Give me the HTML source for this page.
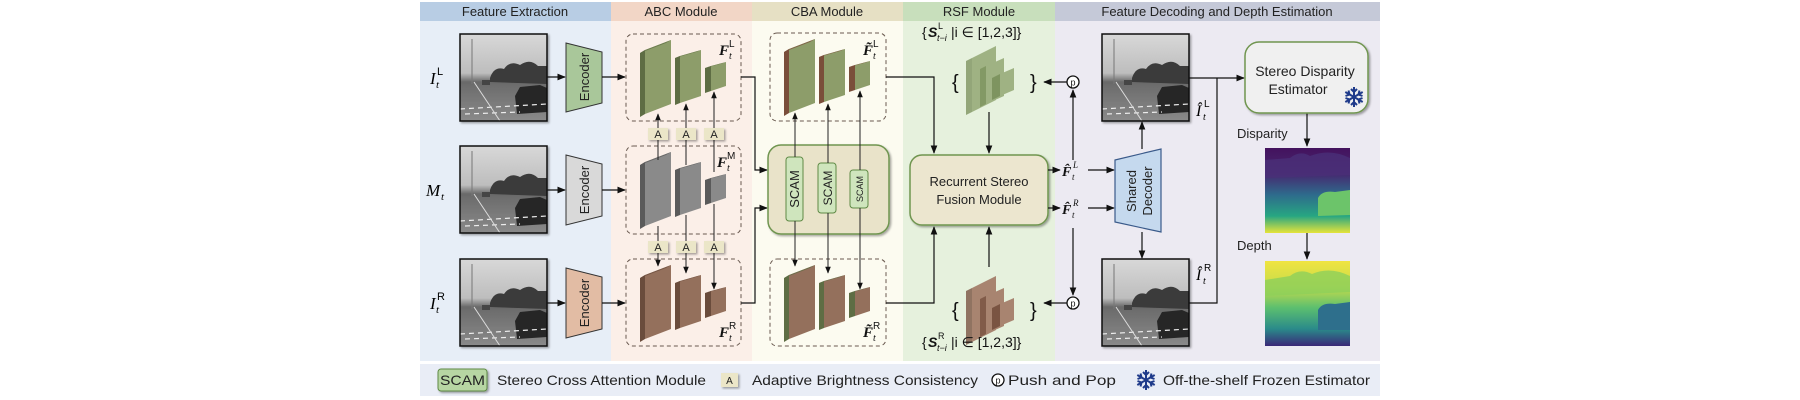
<!DOCTYPE html>
<html><head><meta charset="utf-8"><style>
html,body{margin:0;padding:0;background:#fff;width:1800px;height:400px;overflow:hidden}
svg{display:block}
text{font-family:"Liberation Sans",sans-serif}
.m{font-family:"Liberation Serif",serif;font-style:italic}
.b{font-weight:bold}
</style></head><body>
<svg width="1800" height="400" viewBox="0 0 1800 400" xmlns="http://www.w3.org/2000/svg">
<defs>
<marker id="ar" viewBox="0 0 10 10" refX="9" refY="5" markerWidth="7" markerHeight="7" orient="auto-start-reverse"><path d="M0,1 L10,5 L0,9 z" fill="#111"/></marker>
<linearGradient id="sky" x1="0" y1="0" x2="0" y2="1"><stop offset="0" stop-color="#d8d8d8"/><stop offset="0.45" stop-color="#bdbdbd"/><stop offset="0.55" stop-color="#6a6a6a"/><stop offset="1" stop-color="#8a8a8a"/></linearGradient>
<linearGradient id="disp" x1="0" y1="0" x2="0" y2="1"><stop offset="0" stop-color="#44125e"/><stop offset="0.3" stop-color="#46286f"/><stop offset="0.55" stop-color="#2e6b8c"/><stop offset="0.8" stop-color="#27a682"/><stop offset="1" stop-color="#e6e43a"/></linearGradient>
<linearGradient id="dep" x1="0" y1="0" x2="0" y2="1"><stop offset="0" stop-color="#f0e441"/><stop offset="0.3" stop-color="#c8dc4a"/><stop offset="0.55" stop-color="#5cbf6f"/><stop offset="0.8" stop-color="#2a8a8a"/><stop offset="1" stop-color="#3a2878"/></linearGradient>
<filter id="sh" x="-10%" y="-10%" width="130%" height="130%"><feDropShadow dx="1.5" dy="1.5" stdDeviation="1" flood-opacity="0.35"/></filter>
<g id="photo">
<rect x="0" y="0" width="87" height="87" fill="url(#sky)"/>
<path d="M30,44 Q34,32 44,35 Q50,26 60,31 Q70,24 78,32 L87,32 L87,50 L30,48 z" fill="#3a3a3a"/>
<path d="M55,62 L60,53 L80,51 L87,54 L87,78 L57,80 z" fill="#262626"/>
<rect x="22" y="46" width="8" height="5" fill="#444"/>
<path d="M0,75 L87,70 M5,80 L60,78" stroke="#eee" stroke-width="1.2" stroke-dasharray="5,4"/>
<path d="M14,48 L40,87" stroke="#ddd" stroke-width="1"/>
<line x1="12" y1="5" x2="12" y2="50" stroke="#777" stroke-width="1"/>
<rect x="0" y="0" width="87" height="87" fill="none" stroke="#111" stroke-width="1.5"/>
</g>
<g id="bs">
<polygon points="19,16 45,6 45,70 19,80" style="fill:var(--m)"/>
<polygon points="14,19 19,16 19,80 14,83" style="fill:var(--s)"/>
<polygon points="14,19 40,9 45,6 19,16" style="fill:var(--s)" opacity="0.7"/>
<polygon points="54,22 75,16 75,62 54,69" style="fill:var(--m)"/>
<polygon points="49,24 54,22 54,69 49,71" style="fill:var(--s)"/>
<polygon points="49,24 70,18 75,16 54,22" style="fill:var(--s)" opacity="0.7"/>
<polygon points="85,32 100,28 100,52 85,57" style="fill:var(--m)"/>
<polygon points="79,34 85,32 85,57 79,59" style="fill:var(--s)"/>
<polygon points="79,34 94,30 100,28 85,32" style="fill:var(--s)" opacity="0.7"/>
</g>
<g id="stk">
<polygon points="10,20 34,8 34,62 10,74" style="fill:var(--s)"/>
<polygon points="4,23 10,20 10,74 4,77" style="fill:var(--m)" opacity="0.8"/>
<polygon points="24,28 42,20 42,58 24,66" style="fill:var(--s)"/>
<polygon points="18,31 24,28 24,66 18,69" style="fill:var(--m)" opacity="0.85"/>
<polygon points="38,36 52,30 52,52 38,58" style="fill:var(--s)"/>
<polygon points="30,40 38,36 38,58 30,62" style="fill:var(--m)"/>
</g>
<g id="snow" stroke="#1e3a8a" stroke-width="2" fill="none">
<path d="M0,-10 V10 M-8.7,-5 L8.7,5 M-8.7,5 L8.7,-5"/>
<path d="M-3,-8 L0,-5 L3,-8 M-3,8 L0,5 L3,8 M-8.5,-1 L-4.5,-2.5 L-5.5,-6.5 M8.5,1 L4.5,2.5 L5.5,6.5 M-8.5,1 L-4.5,2.5 L-5.5,6.5 M8.5,-1 L4.5,-2.5 L5.5,-6.5"/>
</g>
</defs>

<!-- bands -->
<rect x="420" y="2" width="191" height="19" fill="#b8cde4"/><rect x="420" y="21" width="191" height="340" fill="#e7eef7"/>
<rect x="611" y="2" width="141" height="19" fill="#f2d6c6"/><rect x="611" y="21" width="141" height="340" fill="#fbefe8"/>
<rect x="752" y="2" width="151" height="19" fill="#e6e0c4"/><rect x="752" y="21" width="151" height="340" fill="#fcfbf0"/>
<rect x="903" y="2" width="152" height="19" fill="#c8dfbc"/><rect x="903" y="21" width="152" height="340" fill="#e6f1dd"/>
<rect x="1055" y="2" width="325" height="19" fill="#c5c9d8"/><rect x="1055" y="21" width="325" height="340" fill="#eceaf2"/>
<g font-size="13" fill="#222" text-anchor="middle">
<text x="515" y="16">Feature Extraction</text>
<text x="681" y="16">ABC Module</text>
<text x="827" y="16">CBA Module</text>
<text x="979" y="16">RSF Module</text>
<text x="1217" y="16">Feature Decoding and Depth Estimation</text>
</g>

<!-- input labels -->
<text class="m" x="430" y="84" font-size="17">I</text><text class="m" x="436" y="88" font-size="11">t</text><text font-family="Liberation Serif,serif" x="437" y="75" font-size="11">L</text>
<text class="m" x="426" y="196" font-size="17">M</text><text class="m" x="441" y="200" font-size="11">t</text>
<text class="m" x="430" y="309" font-size="17">I</text><text class="m" x="436" y="313" font-size="11">t</text><text font-family="Liberation Serif,serif" x="437" y="300" font-size="11">R</text>

<use href="#photo" x="460" y="34" filter="url(#sh)"/>
<use href="#photo" x="460" y="146" filter="url(#sh)"/>
<use href="#photo" x="460" y="259" filter="url(#sh)"/>

<!-- encoders -->
<polygon points="566,43 602,52 602,103 566,112" fill="#a9c79a" stroke="#333" stroke-width="1"/>
<polygon points="566,155 602,164 602,216 566,225" fill="#d9d9d9" stroke="#333" stroke-width="1"/>
<polygon points="566,268 602,277 602,329 566,338" fill="#e2bca4" stroke="#333" stroke-width="1"/>
<g font-size="13" fill="#222" text-anchor="middle">
<text transform="translate(589,77) rotate(-90)">Encoder</text>
<text transform="translate(589,190) rotate(-90)">Encoder</text>
<text transform="translate(589,303) rotate(-90)">Encoder</text>
</g>
<g stroke="#111" stroke-width="1.2" marker-end="url(#ar)">
<line x1="547" y1="77" x2="565" y2="77"/><line x1="602" y1="77" x2="625" y2="77"/>
<line x1="547" y1="190" x2="565" y2="190"/><line x1="602" y1="190" x2="625" y2="190"/>
<line x1="547" y1="303" x2="565" y2="303"/><line x1="602" y1="303" x2="625" y2="303"/>
</g>

<!-- ABC boxes -->
<g fill="none" stroke="#6a5a50" stroke-width="1" stroke-dasharray="4,3">
<rect x="626" y="34" width="115" height="87" rx="7"/>
<rect x="626" y="146" width="115" height="88" rx="7"/>
<rect x="626" y="259" width="115" height="87" rx="7"/>
<rect x="770" y="33" width="116" height="88" rx="7"/>
<rect x="770" y="259" width="116" height="87" rx="7"/>
</g>
<use href="#bs" x="626" y="34" style="--m:#8d9d6a;--s:#5e6d44"/>
<use href="#bs" x="626" y="146" style="--m:#8a8a8a;--s:#5a5a5a"/>
<use href="#bs" x="626" y="259" style="--m:#94705c;--s:#6a4c3c"/>
<use href="#bs" x="770" y="33" style="--m:#8d9d6a;--s:#7a4e3a"/>
<use href="#bs" x="770" y="259" style="--m:#94705c;--s:#5e6d44"/>
<g fill="#111">
<text class="m b" x="719" y="55" font-size="15">F</text><text class="m" x="729" y="59" font-size="10">t</text><text font-family="Liberation Serif,serif" x="729" y="47" font-size="10">L</text>
<text class="m b" x="717" y="167" font-size="15">F</text><text class="m" x="727" y="171" font-size="10">t</text><text font-family="Liberation Serif,serif" x="727" y="159" font-size="10">M</text>
<text class="m b" x="719" y="337" font-size="15">F</text><text class="m" x="729" y="341" font-size="10">t</text><text font-family="Liberation Serif,serif" x="729" y="329" font-size="10">R</text>
<text class="m b" x="863" y="55" font-size="15">F̃</text><text class="m" x="873" y="59" font-size="10">t</text><text font-family="Liberation Serif,serif" x="873" y="47" font-size="10">L</text>
<text class="m b" x="863" y="337" font-size="15">F̃</text><text class="m" x="873" y="341" font-size="10">t</text><text font-family="Liberation Serif,serif" x="873" y="329" font-size="10">R</text>
</g>

<!-- A connectors -->
<g stroke="#222" stroke-width="1" marker-end="url(#ar)">
<line x1="658" y1="160" x2="658" y2="114"/><line x1="686" y1="165" x2="686" y2="104"/><line x1="714" y1="172" x2="714" y2="92"/>
<line x1="658" y1="226" x2="658" y2="266"/><line x1="686" y1="215" x2="686" y2="273"/><line x1="714" y1="204" x2="714" y2="289"/>
</g>
<g font-size="11" fill="#222" text-anchor="middle">
<g filter="url(#sh)" fill="#ebe6c8">
<rect x="648" y="128" width="20" height="12"/><rect x="676" y="128" width="20" height="12"/><rect x="704" y="128" width="20" height="12"/>
<rect x="648" y="241" width="20" height="12"/><rect x="676" y="241" width="20" height="12"/><rect x="704" y="241" width="20" height="12"/>
</g>
<text x="658" y="138">A</text><text x="686" y="138">A</text><text x="714" y="138">A</text>
<text x="658" y="251">A</text><text x="686" y="251">A</text><text x="714" y="251">A</text>
</g>

<!-- ABC to SCAM -->
<g stroke="#111" stroke-width="1.2" fill="none">
<polyline points="741,77 755,77 755,170 767,170" marker-end="url(#ar)"/>
<polyline points="741,303 755,303 755,208 767,208" marker-end="url(#ar)"/>
</g>

<!-- SCAM container -->
<rect x="768" y="145" width="121" height="89" rx="13" fill="#e9e3c9" stroke="#6f9550" stroke-width="1.5" filter="url(#sh)"/>
<g fill="#cfe5bd" stroke="#5f8a45" stroke-width="1">
<rect x="786" y="157" width="17" height="64" rx="3"/>
<rect x="818" y="163" width="18" height="50" rx="3"/>
<rect x="850" y="170" width="18" height="38" rx="3"/>
</g>
<g fill="#222" text-anchor="middle">
<text transform="translate(799,189) rotate(-90)" font-size="13">SCAM</text>
<text transform="translate(832,188) rotate(-90)" font-size="12">SCAM</text>
<text transform="translate(863,189) rotate(-90)" font-size="9">SCAM</text>
</g>
<g stroke="#222" stroke-width="1" marker-end="url(#ar)">
<line x1="795" y1="157" x2="795" y2="113"/><line x1="828" y1="163" x2="828" y2="104"/><line x1="860" y1="170" x2="860" y2="91"/>
<line x1="795" y1="221" x2="795" y2="266"/><line x1="828" y1="213" x2="828" y2="273"/><line x1="860" y1="208" x2="860" y2="289"/>
</g>

<!-- CBA to RSF -->
<g stroke="#111" stroke-width="1.2" fill="none" marker-end="url(#ar)">
<polyline points="886,77 934,77 934,153"/>
<polyline points="886,303 934,303 934,227"/>
<line x1="989" y1="112" x2="989" y2="153"/>
<line x1="989" y1="267" x2="989" y2="227"/>
</g>
<rect x="910" y="155" width="138" height="70" rx="12" fill="#ece6cf" stroke="#6f9550" stroke-width="1.5" filter="url(#sh)"/>
<g font-size="13" fill="#222" text-anchor="middle">
<text x="979" y="186">Recurrent Stereo</text>
<text x="979" y="204">Fusion Module</text>
</g>

<!-- stacks -->
<use href="#stk" x="962" y="38" style="--m:#7e9460;--s:#9fb283"/>
<use href="#stk" x="962" y="268" style="--m:#7a5442;--s:#a88470"/>
<g font-family="Liberation Serif,serif" font-size="20" fill="#111">
<text x="952" y="89">{</text><text x="1030" y="89">}</text>
<text x="952" y="317">{</text><text x="1030" y="317">}</text>
</g>
<g font-family="Liberation Serif,serif" fill="#111">
<text x="922" y="37" font-size="14">{</text><text x="928" y="37" font-size="14" font-weight="bold" font-style="italic">S</text>
<text x="937" y="41" font-size="9" font-style="italic">t−i</text><text x="938" y="29" font-size="9">L</text>
<text x="951" y="37" font-size="14">|i ∈ [1,2,3]}</text>
<text x="922" y="347" font-size="14">{</text><text x="928" y="347" font-size="14" font-weight="bold" font-style="italic">S</text>
<text x="937" y="351" font-size="9" font-style="italic">t−i</text><text x="938" y="339" font-size="9">R</text>
<text x="951" y="347" font-size="14">|i ∈ [1,2,3]}</text>
</g>

<!-- push/pop -->
<g stroke="#111" stroke-width="1.2" fill="none" marker-end="url(#ar)">
<line x1="1067" y1="82" x2="1044" y2="82"/>
<line x1="1067" y1="303" x2="1044" y2="303"/>
<line x1="1073" y1="160" x2="1073" y2="90"/>
<line x1="1073" y1="228" x2="1073" y2="295"/>
<line x1="1048" y1="170" x2="1060" y2="170"/>
<line x1="1048" y1="208" x2="1060" y2="208"/>
<line x1="1088" y1="170" x2="1114" y2="170"/>
<line x1="1088" y1="208" x2="1114" y2="208"/>
</g>
<g fill="#fff" stroke="#111" stroke-width="1.3"><circle cx="1073" cy="82" r="6"/><circle cx="1073" cy="303" r="6"/></g>
<g font-size="9" text-anchor="middle" fill="#111"><text x="1073" y="85.5">p</text><text x="1073" y="306.5">p</text></g>
<g fill="#111">
<text class="m b" x="1062" y="176" font-size="14">F̂</text><text class="m" x="1072" y="180" font-size="9">t</text><text class="m" x="1073" y="168" font-size="9">L</text>
<text class="m b" x="1062" y="214" font-size="14">F̂</text><text class="m" x="1072" y="218" font-size="9">t</text><text class="m" x="1073" y="206" font-size="9">R</text>
</g>

<!-- decoder -->
<polygon points="1115,160 1161,149 1161,232 1115,222" fill="#c5d9ee" stroke="#3a5a8a" stroke-width="1.2"/>
<g font-size="13" fill="#222" text-anchor="middle">
<text transform="translate(1136,191) rotate(-90)">Shared</text>
<text transform="translate(1152,191) rotate(-90)">Decoder</text>
</g>
<g stroke="#111" stroke-width="1.2" fill="none" marker-end="url(#ar)">
<line x1="1142" y1="149" x2="1142" y2="122"/>
<line x1="1142" y1="232" x2="1142" y2="258"/>
<polyline points="1189,78 1244,78"/>
<line x1="1307" y1="113" x2="1307" y2="146"/>
<line x1="1307" y1="233" x2="1307" y2="259"/>
</g>
<polyline points="1217,78 1217,303 1189,303" stroke="#111" stroke-width="1.2" fill="none"/>
<use href="#photo" x="1102" y="34" filter="url(#sh)"/>
<use href="#photo" x="1102" y="259" filter="url(#sh)"/>
<text class="m" x="1196" y="116" font-size="16">Î</text><text class="m" x="1203" y="120" font-size="10">t</text><text font-family="Liberation Serif,serif" x="1204" y="107" font-size="10">L</text>
<text class="m" x="1196" y="280" font-size="16">Î</text><text class="m" x="1203" y="284" font-size="10">t</text><text font-family="Liberation Serif,serif" x="1204" y="271" font-size="10">R</text>

<rect x="1245" y="42" width="123" height="71" rx="14" fill="#f0f0f0" stroke="#6f9550" stroke-width="1.5" filter="url(#sh)"/>
<g font-size="14" fill="#222" text-anchor="middle"><text x="1305" y="76">Stereo Disparity</text><text x="1298" y="94">Estimator</text></g>
<use href="#snow" x="1354" y="97"/>
<g font-size="13" fill="#222"><text x="1237" y="138">Disparity</text><text x="1237" y="250">Depth</text></g>
<rect x="1265" y="148" width="85" height="85" fill="url(#disp)"/>
<path d="M1265,160 L1290,158 Q1300,150 1310,156 Q1330,148 1350,158 L1350,175 L1265,178 z" fill="#4a2f78" opacity="0.8"/>
<path d="M1318,198 Q1322,190 1335,192 L1350,190 L1350,215 L1318,216 z" fill="#6cc46a"/>
<rect x="1265" y="261" width="85" height="85" fill="url(#dep)"/>
<path d="M1265,280 L1290,276 Q1300,268 1312,274 Q1330,266 1350,276 L1350,292 L1265,296 z" fill="#8dd05a" opacity="0.8"/>
<path d="M1318,310 Q1322,302 1335,304 L1350,302 L1350,330 L1318,330 z" fill="#2e6f8c"/>

<!-- legend -->
<rect x="420" y="364" width="960" height="32" fill="#e9edf6"/>
<rect x="438" y="369" width="49" height="22" rx="3" fill="#b7d6a3" stroke="#5f8a45" stroke-width="1" filter="url(#sh)"/>
<g font-size="14" fill="#222">
<text x="440" y="385" textLength="45" lengthAdjust="spacingAndGlyphs">SCAM</text>
<text x="497" y="385" textLength="209" lengthAdjust="spacingAndGlyphs">Stereo Cross Attention Module</text>
<text x="752" y="385" textLength="226" lengthAdjust="spacingAndGlyphs">Adaptive Brightness Consistency</text>
<text x="1008" y="385" textLength="108" lengthAdjust="spacingAndGlyphs">Push and Pop</text>
<text x="1163" y="385" textLength="207" lengthAdjust="spacingAndGlyphs">Off-the-shelf Frozen Estimator</text>
</g>
<rect x="721" y="373" width="17" height="14" fill="#ebe6c8" filter="url(#sh)"/>
<text x="729.5" y="384" font-size="10" text-anchor="middle" fill="#222">A</text>
<circle cx="998" cy="380" r="6" fill="#fff" stroke="#111" stroke-width="1.3"/>
<text x="998" y="383.5" font-size="9" text-anchor="middle" fill="#111">p</text>
<use href="#snow" x="1146" y="380"/>
</svg>
</body></html>
